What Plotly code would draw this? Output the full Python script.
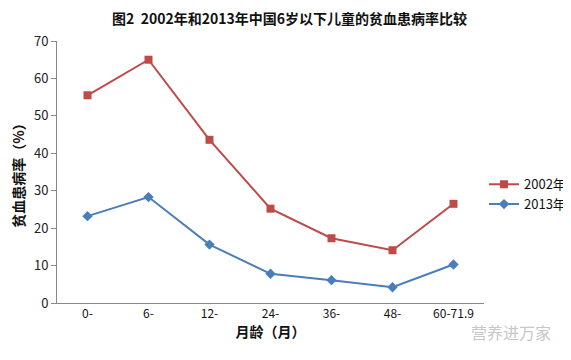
import plotly.graph_objects as go

categories = ["0-", "6-", "12-", "24-", "36-", "48-", "60-71.9"]
rate_2002 = [55.5, 65.0, 43.6, 25.2, 17.3, 14.1, 26.5]
rate_2013 = [23.2, 28.3, 15.6, 7.8, 6.1, 4.2, 10.3]
y_ticks = [0, 10, 20, 30, 40, 50, 60, 70]

FONT = "Noto Sans CJK SC, Liberation Sans, sans-serif"

fig = go.Figure()
fig.add_trace(go.Scatter(
    x=categories, y=rate_2002, name="2002年", mode="lines+markers",
    line=dict(color="#BE4B48", width=2),
    marker=dict(symbol="square", size=8, color="#BE4B48"),
))
fig.add_trace(go.Scatter(
    x=categories, y=rate_2013, name="2013年", mode="lines+markers",
    line=dict(color="#4A7EBB", width=2),
    marker=dict(symbol="diamond", size=8, color="#4A7EBB"),
))

# page body has an 8px margin, so the figure is sized to fit the window
fig.update_layout(
    width=563, height=352,
    margin=dict(l=49, r=87, t=33, b=57, autoexpand=False),
    paper_bgcolor="white", plot_bgcolor="white",
    font=dict(family=FONT, size=12, color="#222222"),
    title=dict(text="<b>图2  2002年和2013年中国6岁以下儿童的贫血患病率比较</b>",
               x=0.5, xanchor="center", y=0.968, yanchor="middle",
               font=dict(size=14, color="#111111")),
    showlegend=True,
    legend=dict(x=1.0, xanchor="left", y=0.415, yanchor="middle",
                font=dict(size=13, color="#111111"), tracegroupgap=6,
                bgcolor="rgba(0,0,0,0)"),
    xaxis=dict(
        type="category", showgrid=False, showline=True, linecolor="#888888",
        linewidth=1, ticks="", tickfont=dict(size=12, color="#111111"),
        title=dict(text="<b>月龄（月）</b>", font=dict(size=14, color="#111111"), standoff=6),
        range=[-0.5, 6.5], automargin=False,
    ),
    yaxis=dict(
        range=[0, 70], tickvals=y_ticks, showgrid=False, showline=True,
        linecolor="#888888", linewidth=1, ticks="outside", ticklen=5,
        tickcolor="#888888", tickfont=dict(size=13, color="#222222"),
        title=dict(text="<b>贫血患病率（%）</b>", font=dict(size=14, color="#111111"), standoff=12),
        zeroline=False, automargin=False,
    ),
)

fig.add_annotation(
    text="营养进万家", xref="paper", yref="paper", x=1.162, y=-0.11,
    xanchor="right", yanchor="middle", showarrow=False,
    font=dict(size=16, color="#C8C8C8"),
)

fig.write_html("out.html")
